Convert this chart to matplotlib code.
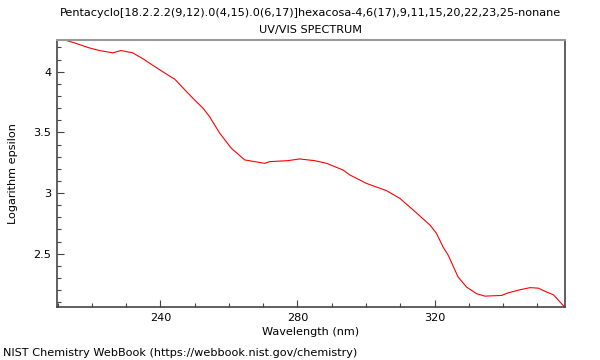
import matplotlib
matplotlib.use("Agg")
import matplotlib.pyplot as plt
from matplotlib.ticker import MultipleLocator, FuncFormatter

title_line1 = "Pentacyclo[18.2.2.2(9,12).0(4,15).0(6,17)]hexacosa-4,6(17),9,11,15,20,22,23,25-nonane"
title_line2 = "UV/VIS SPECTRUM"
x_label = "Wavelength (nm)"
y_label = "Logarithm epsilon"
footer = "NIST Chemistry WebBook (https://webbook.nist.gov/chemistry)"

wavelength = [209.8, 211.9, 214.9, 219.2, 222.2, 226.1, 228.5, 231.9, 235.3, 238.2,
              243.1, 244.1, 249.4, 252.4, 254.3, 257.3, 260.7, 264.6, 267.5, 270.4,
              271.9, 277.2, 280.6, 285.0, 288.5, 293.3, 295.3, 300.1, 306.0, 309.9,
              313.8, 318.7, 320.6, 322.5, 324.0, 326.9, 329.4, 332.3, 334.7, 339.6,
              341.6, 345.0, 347.9, 350.3, 352.8, 354.7, 358.1]
log_eps = [4.264, 4.262, 4.237, 4.196, 4.174, 4.155, 4.174, 4.155, 4.099, 4.044,
           3.956, 3.940, 3.783, 3.700, 3.631, 3.493, 3.369, 3.273, 3.259, 3.245,
           3.259, 3.267, 3.281, 3.267, 3.245, 3.190, 3.149, 3.080, 3.020, 2.956,
           2.860, 2.736, 2.667, 2.556, 2.488, 2.308, 2.225, 2.171, 2.151, 2.157,
           2.179, 2.204, 2.221, 2.217, 2.184, 2.163, 2.058]

fs = 8.1
fig = plt.figure(figsize=(6, 3.6), dpi=100)
ax = fig.add_axes([0.095, 0.146, 0.8467, 0.744])
ax.plot(wavelength, log_eps, color="#ff0000", linewidth=0.8)
ax.set_xlim(min(wavelength), max(wavelength))
ax.set_ylim(min(log_eps), max(log_eps))

ax.xaxis.set_major_locator(MultipleLocator(40))
ax.xaxis.set_minor_locator(MultipleLocator(10))
ax.yaxis.set_major_locator(MultipleLocator(0.5))
ax.yaxis.set_minor_locator(MultipleLocator(0.1))
ax.yaxis.set_major_formatter(FuncFormatter(lambda v, p: ("%g" % v)))
ax.tick_params(which="both", direction="in", color="#444444", labelsize=fs, pad=4)
ax.tick_params(which="major", length=5, width=0.8)
ax.tick_params(which="minor", length=3, width=0.8)

for s in ("left", "bottom", "right"):
    ax.spines[s].set_color("#444444")
    ax.spines[s].set_linewidth(1.2)
ax.spines["top"].set_color("#999999")
ax.spines["top"].set_linewidth(1.5)

ax.set_xlabel(x_label, fontsize=fs, labelpad=3)
ax.set_ylabel(y_label, fontsize=fs, labelpad=11)

fig.text(0.518, 0.963, title_line1, ha="center", va="center", fontsize=fs)
fig.text(0.518, 0.917, title_line2, ha="center", va="center", fontsize=fs)
fig.text(0.005, 0.019, footer, ha="left", va="center", fontsize=fs)

fig.savefig("out.png", dpi=100)
